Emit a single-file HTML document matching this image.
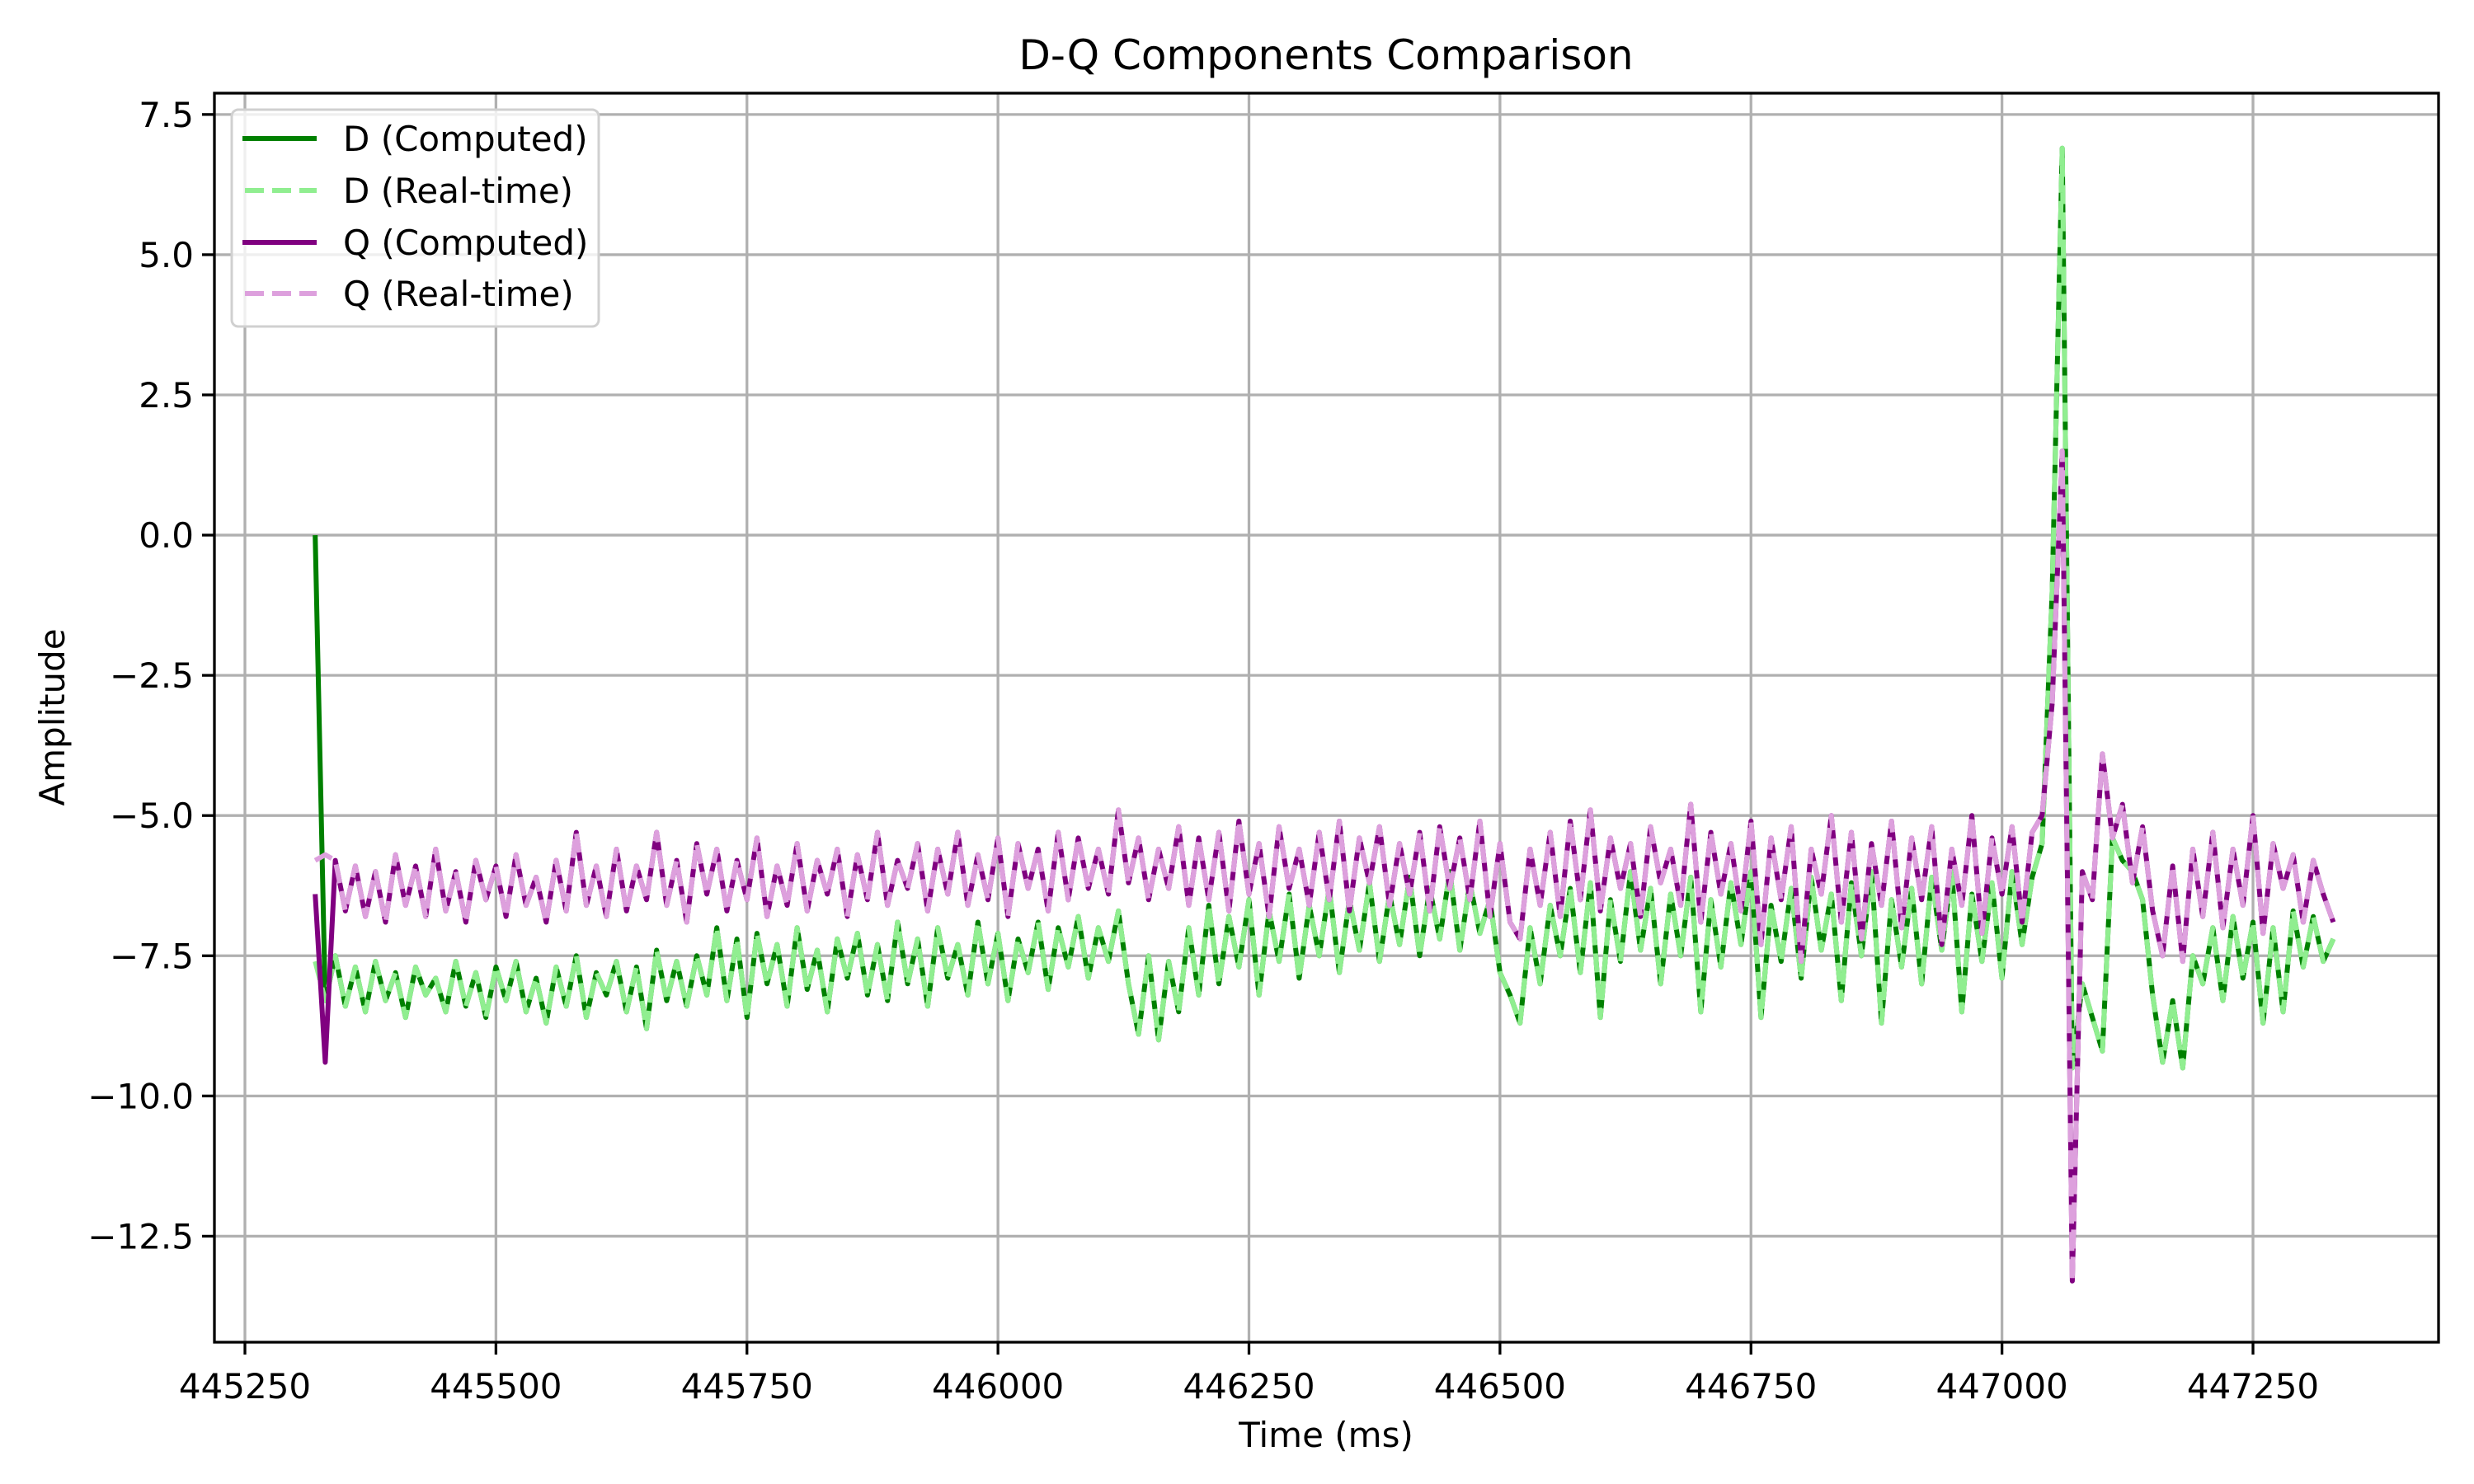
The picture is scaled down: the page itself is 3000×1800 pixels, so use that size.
<!DOCTYPE html>
<html><head><meta charset="utf-8"><style>
html,body{margin:0;padding:0;background:#fff}
svg{display:block;font-family:"DejaVu Sans","Liberation Sans",sans-serif}
</style></head><body>
<svg id="chart" width="3000" height="1800" viewBox="0 0 3000 1800" xmlns="http://www.w3.org/2000/svg">
<rect width="3000" height="1800" fill="#fff"/>
<g id="grid"></g>
<g id="series"></g>
<rect x="260" y="113" width="2697" height="1515" fill="none" stroke="#000" stroke-width="3.3"/>
<g id="ticks"></g>
<text x="1608" y="84" font-size="50" text-anchor="middle">D-Q Components Comparison</text>
<text x="1608" y="1755" font-size="42" text-anchor="middle">Time (ms)</text>
<text transform="translate(78,870) rotate(-90)" font-size="42" text-anchor="middle">Amplitude</text>
<g>
<rect x="281" y="133" width="445" height="263" rx="8" fill="#fff" fill-opacity="0.8" stroke="#d0d0d0" stroke-width="3"/>
<g><line x1="294" y1="168" x2="384" y2="168" stroke="#008000" stroke-width="6"/><text x="416" y="183" font-size="42">D (Computed)</text></g>
<g><line x1="297" y1="231" x2="384" y2="231" stroke="#90ee90" stroke-width="6" stroke-dasharray="23,10"/><text x="416" y="246" font-size="42">D (Real-time)</text></g>
<g><line x1="294" y1="294" x2="384" y2="294" stroke="#800080" stroke-width="6"/><text x="416" y="309" font-size="42">Q (Computed)</text></g>
<g><line x1="297" y1="356" x2="384" y2="356" stroke="#dda0dd" stroke-width="6" stroke-dasharray="23,10"/><text x="416" y="371" font-size="42">Q (Real-time)</text></g>
</g>
</svg>
<script>
const t0 = 445320;
const dt = 10;
const xTicks = [445250, 445500, 445750, 446000, 446250, 446500, 446750, 447000, 447250];
const yTicks = [7.5, 5.0, 2.5, 0.0, -2.5, -5.0, -7.5, -10.0, -12.5];
const yTickLabels = ["7.5", "5.0", "2.5", "0.0", "\u22122.5", "\u22125.0", "\u22127.5", "\u221210.0", "\u221212.5"];
const dComputed = [0,
-8.3,-7.5,-8.4,-7.7,-8.5,-7.6,-8.3,-7.8,-8.6,-7.7,-8.2,-7.9,-8.5,-7.6,-8.4,-7.8,-8.6,-7.7,-8.3,-7.6,-8.5,-7.9,-8.7,-7.7,-8.4,-7.5,-8.6,-7.8,-8.2,-7.6,-8.5,-7.7,-8.8,-7.4,-8.3,-7.6,-8.4,-7.5,
-8.2,-7.0,-8.3,-7.2,-8.6,-7.1,-8.0,-7.3,-8.4,-7.0,-8.1,-7.4,-8.5,-7.2,-7.9,-7.1,-8.2,-7.3,-8.3,-6.9,-8.0,-7.2,-8.4,-7.0,-7.9,-7.3,-8.2,-6.9,-8.0,-7.1,-8.3,-7.2,-7.8,-6.9,-8.1,-7.0,-7.7,-6.8,-7.9,-7.0,-7.6,-6.7,
-8.0,-8.9,-7.5,-9.0,-7.6,-8.5,-7.0,-8.2,
-6.6,-8.0,-6.8,-7.7,-6.5,-8.2,-6.7,-7.6,-6.4,-7.9,-6.6,-7.5,-6.3,-7.8,-6.5,-7.4,-6.2,-7.6,-6.4,-7.3,-6.1,-7.5,-6.3,-7.2,-6.0,-7.4,-6.2,-7.1,-6.5,-7.8,-8.2,
-8.7,-7.0,-8.0,-6.6,-7.5,-6.3,
-7.8,-6.2,-8.6,-6.5,-7.6,-6.0,-7.4,-6.3,-8.0,-6.4,-7.5,-6.1,-8.5,-6.5,-7.7,-6.2,-7.3,-6.0,-8.6,-6.6,-7.6,-6.3,-7.9,-6.1,-7.4,-6.4,-8.3,-6.2,-7.5,-6.0,-8.7,-6.5,-7.7,-6.3,-8.0,-6.1,-7.4,-6.0,-8.5,-6.4,-7.6,-6.2,-7.9,-6.0,-7.3,-6.1,-5.5,
-1.0,6.9,-9.5,-8.0,-8.6,-9.2,-5.4,-5.8,-6.0,-6.5,-8.2,-9.4,-8.3,-9.5,-7.5,-8.0,-7.0,-8.3,-6.8,-7.9,-6.9,-8.7,-7.0,-8.5,-6.7,-7.7,-6.8,-7.6,-7.2];
const dRealtime = [-7.6,
-8.3,-7.5,-8.4,-7.7,-8.5,-7.6,-8.3,-7.8,-8.6,-7.7,-8.2,-7.9,-8.5,-7.6,-8.4,-7.8,-8.6,-7.7,-8.3,-7.6,-8.5,-7.9,-8.7,-7.7,-8.4,-7.5,-8.6,-7.8,-8.2,-7.6,-8.5,-7.7,-8.8,-7.4,-8.3,-7.6,-8.4,-7.5,
-8.2,-7.0,-8.3,-7.2,-8.6,-7.1,-8.0,-7.3,-8.4,-7.0,-8.1,-7.4,-8.5,-7.2,-7.9,-7.1,-8.2,-7.3,-8.3,-6.9,-8.0,-7.2,-8.4,-7.0,-7.9,-7.3,-8.2,-6.9,-8.0,-7.1,-8.3,-7.2,-7.8,-6.9,-8.1,-7.0,-7.7,-6.8,-7.9,-7.0,-7.6,-6.7,
-8.0,-8.9,-7.5,-9.0,-7.6,-8.5,-7.0,-8.2,
-6.6,-8.0,-6.8,-7.7,-6.5,-8.2,-6.7,-7.6,-6.4,-7.9,-6.6,-7.5,-6.3,-7.8,-6.5,-7.4,-6.2,-7.6,-6.4,-7.3,-6.1,-7.5,-6.3,-7.2,-6.0,-7.4,-6.2,-7.1,-6.5,-7.8,-8.2,
-8.7,-7.0,-8.0,-6.6,-7.5,-6.3,
-7.8,-6.2,-8.6,-6.5,-7.6,-6.0,-7.4,-6.3,-8.0,-6.4,-7.5,-6.1,-8.5,-6.5,-7.7,-6.2,-7.3,-6.0,-8.6,-6.6,-7.6,-6.3,-7.9,-6.1,-7.4,-6.4,-8.3,-6.2,-7.5,-6.0,-8.7,-6.5,-7.7,-6.3,-8.0,-6.1,-7.4,-6.0,-8.5,-6.4,-7.6,-6.2,-7.9,-6.0,-7.3,-6.1,-5.5,
-1.0,6.9,-9.5,-8.0,-8.6,-9.2,-5.4,-5.8,-6.0,-6.5,-8.2,-9.4,-8.3,-9.5,-7.5,-8.0,-7.0,-8.3,-6.8,-7.9,-6.9,-8.7,-7.0,-8.5,-6.7,-7.7,-6.8,-7.6,-7.2];
const qComputed = [-6.4,
-9.4,-5.8,-6.7,-5.9,-6.8,-6.0,-6.9,-5.7,-6.6,-5.9,-6.8,-5.6,-6.7,-6.0,-6.9,-5.8,-6.5,-5.9,-6.8,-5.7,-6.6,-6.1,-6.9,-5.8,-6.7,-5.3,-6.6,-5.9,-6.8,-5.6,-6.7,-5.9,-6.5,-5.3,-6.6,-5.8,-6.9,-5.5,
-6.4,-5.6,-6.7,-5.8,-6.5,-5.4,-6.8,-5.9,-6.6,-5.5,-6.7,-5.8,-6.4,-5.6,-6.8,-5.7,-6.5,-5.3,-6.6,-5.8,-6.3,-5.5,-6.7,-5.6,-6.4,-5.3,-6.6,-5.7,-6.5,-5.4,-6.8,-5.5,-6.3,-5.6,-6.7,-5.3,-6.5,-5.4,-6.3,-5.6,-6.4,-4.9,
-6.2,-5.4,-6.5,-5.6,-6.3,-5.2,-6.6,-5.4,
-6.5,-5.3,-6.7,-5.1,-6.4,-5.5,-6.8,-5.2,-6.3,-5.6,-6.6,-5.3,-6.5,-5.1,-6.7,-5.4,-6.2,-5.2,-6.6,-5.5,-6.4,-5.3,-6.7,-5.2,-6.3,-5.4,-6.5,-5.1,-6.8,-5.5,-6.9,
-7.2,-5.6,-6.6,-5.3,-6.8,-5.1,
-6.5,-4.9,-6.7,-5.4,-6.3,-5.5,-6.8,-5.2,-6.2,-5.6,-6.6,-4.8,-6.9,-5.3,-6.4,-5.5,-6.7,-5.1,-7.3,-5.4,-6.5,-5.2,-7.6,-5.6,-6.4,-5.0,-6.9,-5.3,-7.2,-5.5,-6.6,-5.1,-7.0,-5.4,-6.5,-5.2,-7.3,-5.6,-6.6,-5.0,-7.1,-5.4,-6.4,-5.2,-6.9,-5.3,-5.0,
-3.0,1.5,-13.3,-6.0,-6.5,-3.9,-5.4,-4.8,-6.2,-5.2,-6.7,-7.5,-5.9,-7.6,-5.6,-6.8,-5.3,-7.0,-5.6,-6.6,-5.0,-7.1,-5.5,-6.3,-5.7,-6.9,-5.8,-6.4,-6.9];
const qRealtime = [-5.8,
-5.7,-5.8,-6.7,-5.9,-6.8,-6.0,-6.9,-5.7,-6.6,-5.9,-6.8,-5.6,-6.7,-6.0,-6.9,-5.8,-6.5,-5.9,-6.8,-5.7,-6.6,-6.1,-6.9,-5.8,-6.7,-5.3,-6.6,-5.9,-6.8,-5.6,-6.7,-5.9,-6.5,-5.3,-6.6,-5.8,-6.9,-5.5,
-6.4,-5.6,-6.7,-5.8,-6.5,-5.4,-6.8,-5.9,-6.6,-5.5,-6.7,-5.8,-6.4,-5.6,-6.8,-5.7,-6.5,-5.3,-6.6,-5.8,-6.3,-5.5,-6.7,-5.6,-6.4,-5.3,-6.6,-5.7,-6.5,-5.4,-6.8,-5.5,-6.3,-5.6,-6.7,-5.3,-6.5,-5.4,-6.3,-5.6,-6.4,-4.9,
-6.2,-5.4,-6.5,-5.6,-6.3,-5.2,-6.6,-5.4,
-6.5,-5.3,-6.7,-5.1,-6.4,-5.5,-6.8,-5.2,-6.3,-5.6,-6.6,-5.3,-6.5,-5.1,-6.7,-5.4,-6.2,-5.2,-6.6,-5.5,-6.4,-5.3,-6.7,-5.2,-6.3,-5.4,-6.5,-5.1,-6.8,-5.5,-6.9,
-7.2,-5.6,-6.6,-5.3,-6.8,-5.1,
-6.5,-4.9,-6.7,-5.4,-6.3,-5.5,-6.8,-5.2,-6.2,-5.6,-6.6,-4.8,-6.9,-5.3,-6.4,-5.5,-6.7,-5.1,-7.3,-5.4,-6.5,-5.2,-7.6,-5.6,-6.4,-5.0,-6.9,-5.3,-7.2,-5.5,-6.6,-5.1,-7.0,-5.4,-6.5,-5.2,-7.3,-5.6,-6.6,-5.0,-7.1,-5.4,-6.4,-5.2,-6.9,-5.3,-5.0,
-3.0,1.5,-13.3,-6.0,-6.5,-3.9,-5.4,-4.8,-6.2,-5.2,-6.7,-7.5,-5.9,-7.6,-5.6,-6.8,-5.3,-7.0,-5.6,-6.6,-5.0,-7.1,-5.5,-6.3,-5.7,-6.9,-5.8,-6.4,-6.9];

const NS = "http://www.w3.org/2000/svg";
const X0 = 260, X1 = 2957, Y0 = 113, Y1 = 1628;
const xMin = 445219.6, xMax = 447434.8, yMin = -14.39, yMax = 7.88;
function xs(v){ return X0 + (v - xMin) / (xMax - xMin) * (X1 - X0); }
function ys(v){ return Y1 - (v - yMin) / (yMax - yMin) * (Y1 - Y0); }
function mk(tag, attrs, parent){
  const e = document.createElementNS(NS, tag);
  for (const k in attrs) e.setAttribute(k, attrs[k]);
  parent.appendChild(e);
  return e;
}
const grid = document.getElementById('grid');
const ticks = document.getElementById('ticks');
xTicks.forEach(v => {
  const x = xs(v);
  const g = mk('line', {x1:x, x2:x, y1:Y0, y2:Y1, stroke:'#b0b0b0', 'stroke-width':3.3}, grid);
  
  
  const t = mk('line', {x1:x, x2:x, y1:Y1, y2:Y1+15, stroke:'#000', 'stroke-width':3.3}, ticks);
  
  
  const l = mk('text', {x:x, y:Y1+68, 'font-size':42, 'text-anchor':'middle'}, ticks);
  l.textContent = String(v);
  
  
});
yTicks.forEach((v, i) => {
  const y = ys(v);
  const g = mk('line', {x1:X0, x2:X1, y1:y, y2:y, stroke:'#b0b0b0', 'stroke-width':3.3}, grid);
  
  
  const t = mk('line', {x1:X0-15, x2:X0, y1:y, y2:y, stroke:'#000', 'stroke-width':3.3}, ticks);
  
  
  const l = mk('text', {x:X0-25, y:y+15, 'font-size':42, 'text-anchor':'end'}, ticks);
  l.textContent = yTickLabels[i];
  
  
});
const series = document.getElementById('series');
function drawLine(vals, color, dash, name){
  const pts = vals.map((v, i) => xs(t0 + i*dt).toFixed(1) + ',' + ys(v).toFixed(1)).join(' ');
  const p = mk('polyline', {points:pts, fill:'none', stroke:color, 'stroke-width':6, 'stroke-linejoin':'round'}, series);
  if (dash) p.setAttribute('stroke-dasharray', dash);
  
  
}
drawLine(dComputed, '#008000', null, 'd-computed-line');
drawLine(dRealtime, '#90ee90', '23,10', 'd-realtime-line');
drawLine(qComputed, '#800080', null, 'q-computed-line');
drawLine(qRealtime, '#dda0dd', '23,10', 'q-realtime-line');
</script>
</body></html>
